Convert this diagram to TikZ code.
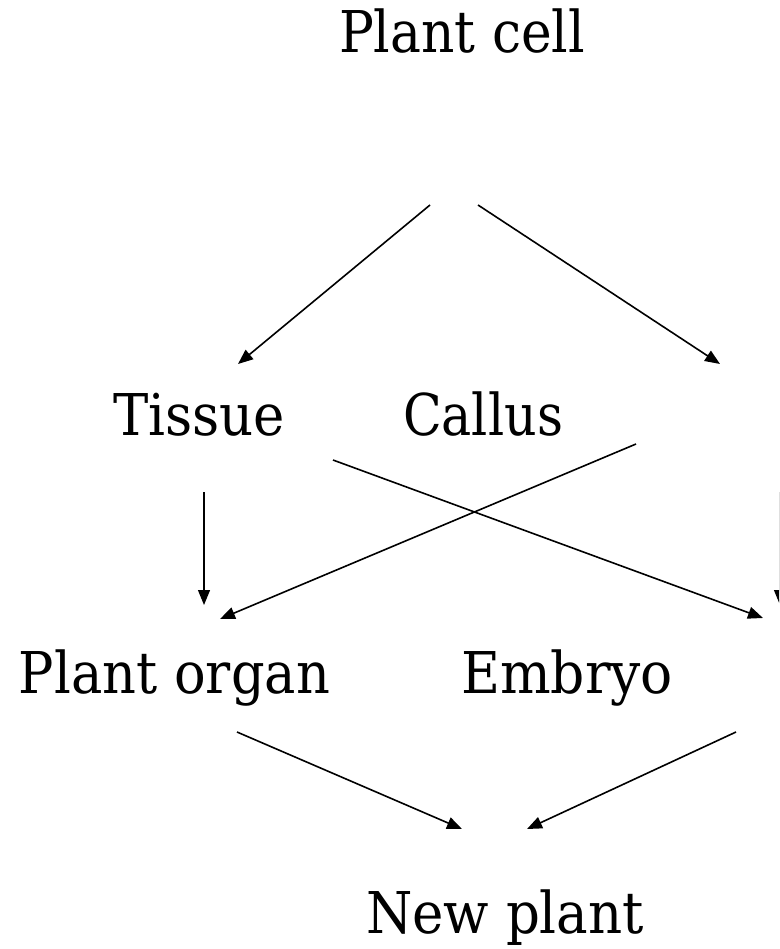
\documentclass[tikz,border=0pt]{standalone}
\usepackage{fontspec}
\setmainfont{DejaVu Serif}
\usetikzlibrary{arrows.meta}
\newcommand{\fitw}[2]{\resizebox{#1pt}{\height}{#2}}
\begin{document}
\begin{tikzpicture}[x=1pt,y=-1pt,
  lbl/.style={anchor=base west,inner sep=0pt,outer sep=0pt,font=\fontsize{57.6}{66}\selectfont},
  arr/.style={line width=1.6pt,-{Triangle[length=15pt,width=12pt]}},
  varr/.style={line width=1.2pt,-{Triangle[length=15pt,width=12pt]}}]
\useasboundingbox (0,0) rectangle (779,949);
\clip (0,0) rectangle (779,949);
\node[lbl] (cell) at (339,53) {\fitw{246}{Plant cell}};
\node[lbl] (tissue) at (113,435) {\fitw{172}{Tissue}};
\node[lbl] (callus) at (403,435) {\fitw{160}{Callus}};
\node[lbl] (organ) at (19,693) {\fitw{311}{Plant organ}};
\node[lbl] (embryo) at (461,693) {\fitw{212}{Embryo}};
\node[lbl] (new) at (366,933) {\fitw{278}{New plant}};
% free connector ends
\coordinate (a1s) at (430,205); \coordinate (a1e) at (238,364);
\coordinate (a2s) at (478,205); \coordinate (a2e) at (720,364);
\coordinate (a3s) at (333,460); \coordinate (a3e) at (763,618);
\coordinate (a4s) at (636,444); \coordinate (a4e) at (220,619);
\coordinate (a5s) at (204,492); \coordinate (a5e) at (204,605);
\coordinate (a6s) at (780,492); \coordinate (a6e) at (780,605);
\coordinate (a7s) at (237,732); \coordinate (a7e) at (462,829);
\coordinate (a8s) at (736,732); \coordinate (a8e) at (527,829);
\draw[arr] (a1s) -- (a1e);
\draw[arr] (a2s) -- (a2e);
\draw[arr] (a3s) -- (a3e);
\draw[arr] (a4s) -- (a4e);
\draw[varr] (a5s) -- (a5e);
\draw[varr] (a6s) -- (a6e);
\draw[arr] (a7s) -- (a7e);
\draw[arr] (a8s) -- (a8e);
\end{tikzpicture}
\end{document}
